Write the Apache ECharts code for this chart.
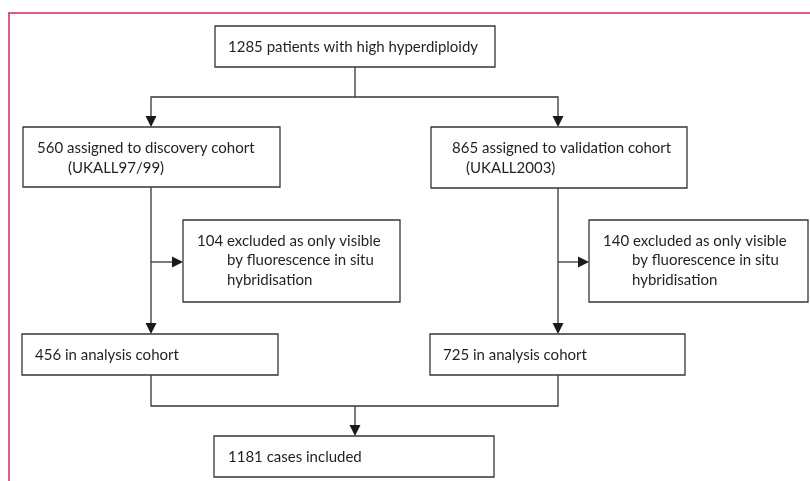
<!DOCTYPE html>
<html>
<head>
<meta charset="utf-8">
<script src="https://cdn.jsdelivr.net/npm/echarts@6/dist/echarts.min.js"></script>
<style>
  html, body { margin: 0; padding: 0; background: #fff; }
  #main { width: 810px; height: 481px; }
</style>
</head>
<body>
<div id="main"></div>
<script>
// 流程图数据：每个框的人数和文字
var boxCounts = [1285, 560, 865, 104, 140, 456, 725, 1181];
var boxLines = [
    ['patients with high hyperdiploidy'],
    ['assigned to discovery cohort', '(UKALL97/99)'],
    ['assigned to validation cohort', '(UKALL2003)'],
    ['excluded as only visible', 'by fluorescence in situ', 'hybridisation'],
    ['excluded as only visible', 'by fluorescence in situ', 'hybridisation'],
    ['in analysis cohort'],
    ['in analysis cohort'],
    ['cases included']
];

// 布局（坐标轴单位 = 像素）：[x0, y0, x1, y1, 首行x, 其余行x, 首行y, 行距]
var boxLayout = [
    [215, 26, 495, 67, 228, 228, 47, 20],
    [23, 127, 280, 187, 37, 68, 148, 20],
    [431, 127, 687, 188, 452, 466, 148, 20],
    [183, 220, 400, 302, 197, 227, 241, 19.5],
    [589, 220, 808, 302, 603, 632, 241, 19.5],
    [22, 334, 278, 375, 35, 35, 355, 20],
    [430, 334, 685, 375, 443, 443, 355, 20],
    [214, 436, 494, 477, 228, 228, 457, 20]
];

// 连接线：点序列 + 是否带箭头
var connectors = [
    { pts: [[355, 67], [355, 97]], arrow: false },
    { pts: [[355, 97], [151, 97], [151, 127]], arrow: true },
    { pts: [[355, 97], [558, 97], [558, 127]], arrow: true },
    { pts: [[151, 187], [151, 334]], arrow: true },
    { pts: [[151, 262], [183, 262]], arrow: true },
    { pts: [[558, 188], [558, 334]], arrow: true },
    { pts: [[558, 262], [589, 262]], arrow: true },
    { pts: [[151, 375], [151, 406], [558, 406], [558, 375]], arrow: false },
    { pts: [[355, 406], [355, 436]], arrow: true }
];

var lineColor = '#363636';
var textColor = '#231f20';
var frameColor = '#d3285c';
var font = '15px Lato';

function renderBox(params, api) {
    var i = params.dataIndex;
    var b = boxLayout[i];
    var p0 = api.coord([b[0], b[1]]);
    var p1 = api.coord([b[2], b[3]]);
    var children = [{
        type: 'rect',
        shape: { x: p0[0], y: p0[1], width: p1[0] - p0[0], height: p1[1] - p0[1] },
        style: { fill: '#fff', stroke: lineColor, lineWidth: 1.3 }
    }];
    var lines = boxLines[i];
    for (var k = 0; k < lines.length; k++) {
        var txt = k === 0 ? boxCounts[i] + ' ' + lines[k] : lines[k];
        var pt = api.coord([k === 0 ? b[4] : b[5], b[6] + k * b[7]]);
        children.push({
            type: 'text',
            x: pt[0],
            y: pt[1],
            style: {
                text: txt,
                fill: textColor,
                font: font,
                textAlign: 'left',
                textVerticalAlign: 'middle'
            }
        });
    }
    return { type: 'group', children: children };
}

function renderConnector(params, api) {
    var c = connectors[params.dataIndex];
    var pts = c.pts.map(function (p) { return api.coord(p); });
    var children = [];
    if (c.arrow) {
        var a = pts[pts.length - 2], t = pts[pts.length - 1];
        var dx = t[0] - a[0], dy = t[1] - a[1];
        var len = Math.sqrt(dx * dx + dy * dy);
        dx /= len; dy /= len;
        var head = 11, half = 5.5;
        var bx = t[0] - dx * head, by = t[1] - dy * head;
        pts[pts.length - 1] = [bx, by];
        children.push({
            type: 'polygon',
            shape: { points: [t, [bx - dy * half, by + dx * half], [bx + dy * half, by - dx * half]] },
            style: { fill: '#1a1a1a' }
        });
    }
    children.unshift({
        type: 'polyline',
        shape: { points: pts },
        style: { stroke: lineColor, lineWidth: 1.3, fill: null }
    });
    return { type: 'group', children: children };
}

var chart = echarts.init(document.getElementById('main'));
chart.setOption({
    animation: false,
    grid: { left: 9, top: 13, right: 0, bottom: 0 },
    xAxis: {
        type: 'value', min: 9, max: 810, position: 'top',
        axisLine: { show: true, lineStyle: { color: frameColor, width: 1.5 } },
        axisTick: { show: false }, axisLabel: { show: false }, splitLine: { show: false }
    },
    yAxis: {
        type: 'value', min: 13, max: 481, inverse: true, position: 'left',
        axisLine: { show: true, lineStyle: { color: frameColor, width: 1.5 } },
        axisTick: { show: false }, axisLabel: { show: false }, splitLine: { show: false }
    },
    series: [
        {
            type: 'custom',
            renderItem: renderConnector,
            data: connectors.map(function (c, i) { return [i]; }),
            silent: true
        },
        {
            type: 'custom',
            renderItem: renderBox,
            data: boxCounts.map(function (v, i) { return [i, v]; }),
            silent: true
        }
    ]
});
</script>
</body>
</html>
